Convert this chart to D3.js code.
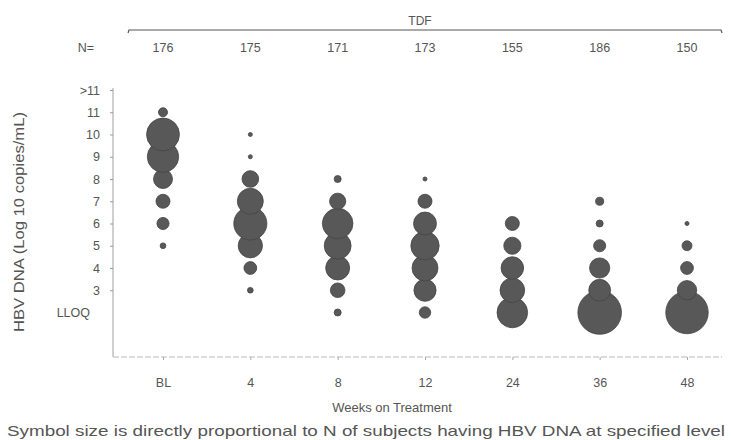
<!DOCTYPE html>
<html>
<head>
<meta charset="utf-8">
<script src="https://cdn.jsdelivr.net/npm/d3@7"></script>
<style>
  html, body { margin: 0; padding: 0; background: #ffffff; }
  svg { display: block; }
  text { font-family: "Liberation Sans", Arial, sans-serif; fill: #555; }
</style>
</head>
<body>
<svg id="chart" width="732" height="440"></svg>
<script>
// ---- data ----
const weeks = ["BL", "4", "8", "12", "24", "36", "48"];
const nTotals = [176, 175, 171, 173, 155, 186, 150];
const levelValues = [2, 3, 4, 5, 6, 7, 8, 9, 10, 11, 12];
const levelLabels = ["LLOQ", "3", "4", "5", "6", "7", "8", "9", "10", "11", ">11"];
// subject counts per level (LLOQ, 3, 4, ... 11, >11)
const countsBL  = [0, 0, 0, 2, 9, 12, 22, 60, 66, 5, 0];
const counts4   = [0, 2, 10, 36, 67, 41, 17, 1, 1, 0, 0];
const counts8   = [3, 13, 35, 44, 57, 16, 3, 0, 0, 0, 0];
const counts12  = [8, 30, 41, 49, 32, 12, 1, 0, 0, 0, 0];
const counts24  = [57, 37, 31, 18, 12, 0, 0, 0, 0, 0, 0];
const counts36  = [116, 29, 25, 9, 3, 4, 0, 0, 0, 0, 0];
const counts48  = [110, 23, 10, 6, 1, 0, 0, 0, 0, 0, 0];
const allCounts = [countsBL, counts4, counts8, counts12, counts24, counts36, counts48];

// ---- layout ----
const svg = d3.select("#chart");
const x = d3.scalePoint().domain(weeks).range([163, 687]);
const y = d3.scaleLinear().domain([0, 12]).range([357, 90]);
const r = d3.scaleSqrt().domain([0, 116]).range([0, 21.8]);
const FONT = "'Liberation Sans', Arial, sans-serif";

// axes lines
svg.append("line").attr("x1", 113).attr("x2", 113).attr("y1", 88).attr("y2", 357)
  .attr("stroke", "#a0a0a0").attr("stroke-width", 1);
svg.append("line").attr("x1", 113).attr("x2", 722).attr("y1", 357).attr("y2", 357)
  .attr("stroke", "#b8b8b8").attr("stroke-width", 1).attr("stroke-dasharray", "6,2");

// y ticks
const yAxis = d3.axisLeft(y).tickValues(levelValues)
  .tickFormat(d => levelLabels[levelValues.indexOf(d)])
  .tickSize(3).tickPadding(10);
const gy = svg.append("g").attr("transform", "translate(113,0)").call(yAxis);
gy.select(".domain").remove();
gy.selectAll(".tick line").attr("stroke", "#999").attr("opacity", d => d === 2 ? 0 : 1);
gy.selectAll(".tick text").attr("font-size", 12.5).attr("fill", "#5a5a5a")
  .attr("dx", d => d === 2 ? -10 : 0)
  .style("font-family", FONT);

// x ticks
const xAxis = d3.axisBottom(x).tickSize(3).tickPadding(18);
const gx = svg.append("g").attr("transform", "translate(0,357)").call(xAxis);
gx.select(".domain").remove();
gx.selectAll(".tick line").attr("stroke", "#aaa");
gx.selectAll(".tick text").attr("font-size", 12.5).attr("fill", "#5a5a5a")
  .style("font-family", FONT);

// bubbles
const bubbles = [];
weeks.forEach((w, wi) => {
  allCounts[wi].forEach((c, li) => {
    if (c > 0) bubbles.push({ week: w, level: levelValues[li], n: c });
  });
});
svg.append("g").selectAll("circle").data(bubbles).join("circle")
  .attr("cx", d => x(d.week))
  .attr("cy", d => y(d.level))
  .attr("r", d => r(d.n))
  .attr("fill", "#585858")
  .attr("stroke", "#454545")
  .attr("stroke-width", 0.8);

// header: TDF bracket and N row
svg.append("path")
  .attr("d", "M128,33 L129,30 L721,30 L722,33")
  .attr("fill", "none").attr("stroke", "#555").attr("stroke-width", 1.2);
svg.append("text").attr("x", 420).attr("y", 25).attr("text-anchor", "middle")
  .attr("font-size", 12).text("TDF");
svg.append("text").attr("x", 86).attr("y", 52).attr("text-anchor", "middle")
  .attr("font-size", 12.5).text("N=");
svg.append("g").selectAll("text").data(weeks).join("text")
  .attr("x", d => x(d)).attr("y", 52).attr("text-anchor", "middle")
  .attr("font-size", 12.5).text((d, i) => nTotals[i]);

// titles
svg.append("text").attr("transform", "translate(24,222) rotate(-90)")
  .attr("text-anchor", "middle").attr("font-size", 14).attr("fill", "#5a5a5a")
  .attr("textLength", 220).attr("lengthAdjust", "spacingAndGlyphs")
  .text("HBV DNA (Log 10 copies/mL)");
svg.append("text").attr("x", 392).attr("y", 412).attr("text-anchor", "middle")
  .attr("font-size", 13).text("Weeks on Treatment");
svg.append("text").attr("x", 366).attr("y", 436).attr("text-anchor", "middle")
  .attr("font-size", 14.5).attr("fill", "#3a3a3a")
  .attr("textLength", 718).attr("lengthAdjust", "spacingAndGlyphs")
  .text("Symbol size is directly proportional to N of subjects having HBV DNA at specified level");
</script>
</body>
</html>
